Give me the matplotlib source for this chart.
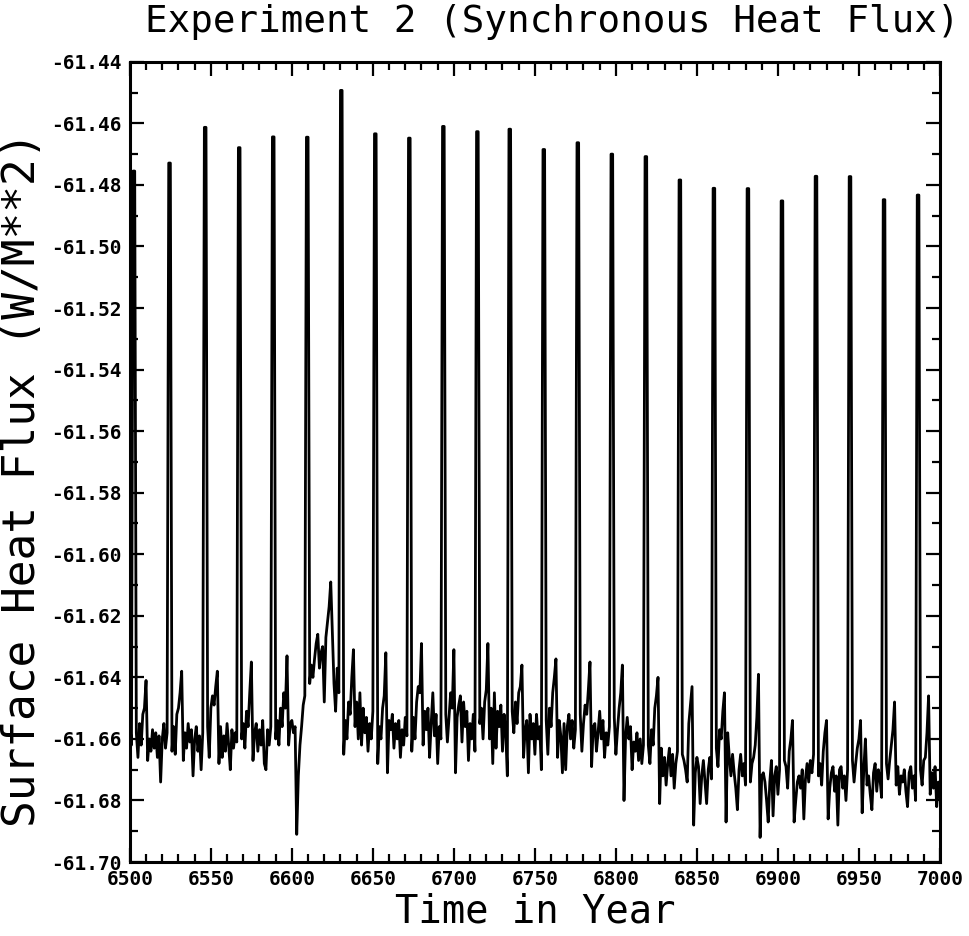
import numpy as np
import matplotlib
matplotlib.use("Agg")
import matplotlib.pyplot as plt
from matplotlib.ticker import MultipleLocator, FormatStrFormatter

# yearly surface heat flux, 6500..7000 (background signal)
years = np.arange(6500, 7001)
flux = [
    -61.655, -61.662, -61.664, -61.668, -61.658, -61.666, -61.655, -61.662, -61.652, -61.650,
    -61.641, -61.667, -61.660, -61.664, -61.657, -61.663, -61.658, -61.666, -61.659, -61.674,
    -61.660, -61.655, -61.663, -61.658, -61.661, -61.678, -61.664, -61.656, -61.665, -61.652,
    -61.650, -61.645, -61.638, -61.667, -61.658, -61.663, -61.655, -61.661, -61.657, -61.672,
    -61.660, -61.656, -61.664, -61.659, -61.670, -61.658, -61.660, -61.663, -61.656, -61.666,
    -61.650, -61.646, -61.649, -61.643, -61.638, -61.668, -61.656, -61.666, -61.659, -61.664,
    -61.655, -61.662, -61.670, -61.657, -61.663, -61.658, -61.661, -61.660, -61.678, -61.660,
    -61.655, -61.663, -61.651, -61.656, -61.645, -61.635, -61.667, -61.658, -61.655, -61.664,
    -61.657, -61.662, -61.654, -61.668, -61.670, -61.657, -61.662, -61.656, -61.660, -61.665,
    -61.660, -61.654, -61.662, -61.650, -61.656, -61.645, -61.650, -61.633, -61.662, -61.655,
    -61.654, -61.658, -61.656, -61.691, -61.672, -61.662, -61.656, -61.649, -61.646, -61.648,
    -61.651, -61.642, -61.636, -61.640, -61.634, -61.629, -61.626, -61.637, -61.632, -61.630,
    -61.648, -61.627, -61.622, -61.617, -61.609, -61.625, -61.642, -61.651, -61.637, -61.645,
    -61.650, -61.658, -61.665, -61.654, -61.660, -61.648, -61.652, -61.640, -61.631, -61.656,
    -61.648, -61.660, -61.645, -61.662, -61.650, -61.658, -61.653, -61.664, -61.655, -61.660,
    -61.651, -61.658, -61.665, -61.668, -61.656, -61.660, -61.650, -61.646, -61.632, -61.671,
    -61.654, -61.657, -61.652, -61.663, -61.655, -61.660, -61.654, -61.666, -61.657, -61.662,
    -61.653, -61.659, -61.660, -61.667, -61.664, -61.653, -61.660, -61.648, -61.643, -61.645,
    -61.629, -61.662, -61.651, -61.657, -61.650, -61.666, -61.655, -61.645, -61.659, -61.652,
    -61.668, -61.656, -61.660, -61.662, -61.669, -61.652, -61.661, -61.653, -61.645, -61.650,
    -61.631, -61.671, -61.653, -61.649, -61.646, -61.661, -61.648, -61.656, -61.651, -61.667,
    -61.655, -61.660, -61.652, -61.664, -61.658, -61.666, -61.655, -61.650, -61.660, -61.648,
    -61.644, -61.629, -61.660, -61.650, -61.668, -61.645, -61.663, -61.651, -61.656, -61.649,
    -61.664, -61.652, -61.658, -61.672, -61.660, -61.664, -61.651, -61.658, -61.648, -61.655,
    -61.645, -61.643, -61.636, -61.666, -61.657, -61.654, -61.671, -61.652, -61.660, -61.655,
    -61.665, -61.652, -61.660, -61.656, -61.670, -61.660, -61.672, -61.654, -61.665, -61.650,
    -61.656, -61.645, -61.640, -61.634, -61.666, -61.654, -61.659, -61.671, -61.655, -61.670,
    -61.656, -61.652, -61.660, -61.654, -61.663, -61.657, -61.662, -61.672, -61.652, -61.664,
    -61.655, -61.649, -61.652, -61.644, -61.635, -61.669, -61.656, -61.655, -61.664, -61.658,
    -61.651, -61.660, -61.654, -61.666, -61.658, -61.662, -61.656, -61.664, -61.672, -61.653,
    -61.665, -61.657, -61.650, -61.645, -61.636, -61.680, -61.659, -61.653, -61.660, -61.656,
    -61.670, -61.661, -61.664, -61.658, -61.667, -61.660, -61.668, -61.662, -61.666, -61.676,
    -61.662, -61.668, -61.657, -61.662, -61.650, -61.646, -61.640, -61.681, -61.663, -61.672,
    -61.666, -61.675, -61.668, -61.663, -61.672, -61.665, -61.676, -61.668, -61.664, -61.670,
    -61.682, -61.665, -61.667, -61.670, -61.674, -61.655, -61.649, -61.643, -61.688, -61.671,
    -61.666, -61.669, -61.681, -61.672, -61.667, -61.674, -61.681, -61.670, -61.666, -61.673,
    -61.670, -61.677, -61.663, -61.669, -61.657, -61.660, -61.651, -61.645, -61.687, -61.658,
    -61.666, -61.672, -61.665, -61.671, -61.676, -61.683, -61.670, -61.665, -61.672, -61.668,
    -61.675, -61.672, -61.679, -61.674, -61.668, -61.666, -61.662, -61.653, -61.639, -61.692,
    -61.672, -61.671, -61.674, -61.680, -61.687, -61.674, -61.667, -61.685, -61.672, -61.669,
    -61.678, -61.670, -61.674, -61.683, -61.667, -61.669, -61.676, -61.664, -61.660, -61.654,
    -61.687, -61.680, -61.674, -61.672, -61.676, -61.670, -61.686, -61.673, -61.668, -61.674,
    -61.667, -61.671, -61.665, -61.672, -61.683, -61.672, -61.668, -61.675, -61.664, -61.658,
    -61.654, -61.686, -61.676, -61.671, -61.669, -61.677, -61.672, -61.688, -61.670, -61.669,
    -61.676, -61.672, -61.680, -61.670, -61.675, -61.686, -61.667, -61.674, -61.668, -61.663,
    -61.660, -61.654, -61.684, -61.670, -61.660, -61.675, -61.672, -61.678, -61.683, -61.671,
    -61.668, -61.677, -61.670, -61.673, -61.679, -61.674, -61.685, -61.668, -61.673, -61.667,
    -61.662, -61.657, -61.648, -61.675, -61.669, -61.678, -61.672, -61.674, -61.670, -61.677,
    -61.682, -61.671, -61.669, -61.676, -61.672, -61.680, -61.675, -61.683, -61.670, -61.675,
    -61.667, -61.666, -61.658, -61.646, -61.678, -61.671, -61.676, -61.669, -61.682, -61.674,
    -61.679,
]

# the synchronous flux pulses: first year of each pulse and its peak value
spike_years = [6502, 6524, 6546, 6567, 6588, 6609, 6630, 6651, 6672, 6693, 6714, 6734,
               6755, 6776, 6797, 6818, 6839, 6860, 6881, 6902, 6923, 6944, 6965, 6986]
spike_peaks = [-61.4755, -61.4729, -61.4613, -61.4679, -61.4644, -61.4645, -61.4493, -61.4634,
               -61.4648, -61.4610, -61.4627, -61.4619, -61.4685, -61.4663, -61.4700, -61.4708,
               -61.4784, -61.4811, -61.4812, -61.4852, -61.4772, -61.4773, -61.4848, -61.4833]
pulse_len = 2  # each pulse stays up for about two yearly samples

series = np.array(flux)
for yr, pk in zip(spike_years, spike_peaks):
    i = yr - 6500
    series[i:i + pulse_len] = pk

mono = "DejaVu Sans Mono"

fig = plt.figure(figsize=(9.69, 9.36), dpi=100)
ax = fig.add_axes([0.134, 0.079, 0.836, 0.855])

ax.plot(years, series, color="black", lw=2.0)

ax.set_xlim(6500, 7000)
ax.set_ylim(-61.70, -61.44)

ax.xaxis.set_major_locator(MultipleLocator(50))
ax.xaxis.set_minor_locator(MultipleLocator(10))
ax.yaxis.set_major_locator(MultipleLocator(0.02))
ax.yaxis.set_minor_locator(MultipleLocator(0.01))
ax.yaxis.set_major_formatter(FormatStrFormatter("%.2f"))

ax.tick_params(which="both", direction="in", top=True, right=True, width=1.6, colors="black")
ax.tick_params(which="major", length=10, pad=6)
ax.tick_params(which="minor", length=6)

for lab in ax.get_xticklabels() + ax.get_yticklabels():
    lab.set_fontfamily(mono)
    lab.set_fontweight("bold")
    lab.set_fontsize(14)

for sp in ax.spines.values():
    sp.set_linewidth(2.2)

fig.text(0.57, 0.976, "Experiment 2 (Synchronous Heat Flux)", ha="center", va="center",
         fontsize=27, family=mono)
fig.text(0.552, 0.026, "Time in Year", ha="center", va="center", fontsize=28, family=mono)
fig.text(0.023, 0.488, "Surface Heat Flux (W/M**2)", ha="center", va="center",
         rotation=90, fontsize=32, family=mono)

fig.savefig("out.png", dpi=100)
